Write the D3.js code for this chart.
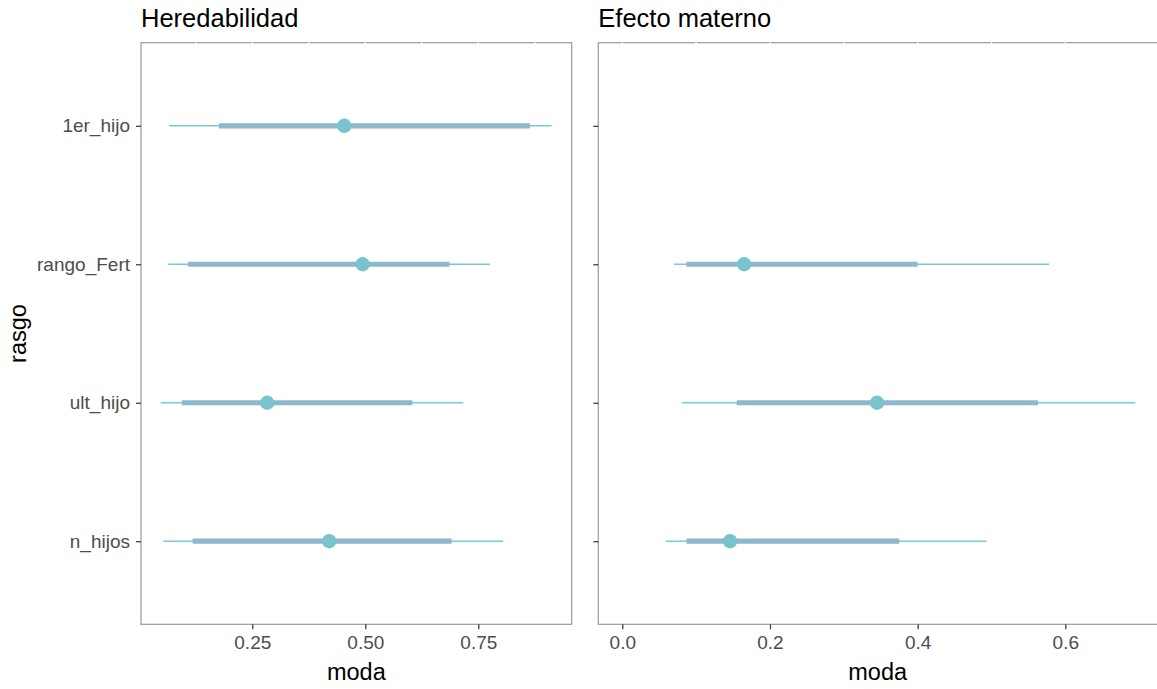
<!DOCTYPE html>
<html>
<head>
<meta charset="utf-8">
<script src="https://cdn.jsdelivr.net/npm/d3@7"></script>
<style>
  body { margin: 0; background: #fff; }
  text { font-family: "Liberation Sans", Arial, sans-serif; }
</style>
</head>
<body>
<svg id="svg"></svg>
<script>
var width = 1157, height = 689;

// data
var rasgos = ['1er_hijo', 'rango_Fert', 'ult_hijo', 'n_hijos'];

var herModa = [0.4535, 0.494, 0.283, 0.420];
var herLoInt = [0.176, 0.108, 0.094, 0.118];
var herHiInt = [0.864, 0.686, 0.604, 0.691];
var herLo = [0.066, 0.064, 0.047, 0.053];
var herHi = [0.912, 0.776, 0.717, 0.805];

var matModa = [null, 0.165, 0.345, 0.146];
var matLoInt = [null, 0.087, 0.155, 0.087];
var matHiInt = [null, 0.400, 0.563, 0.375];
var matLo = [null, 0.070, 0.081, 0.059];
var matHi = [null, 0.578, 0.695, 0.493];

var herTicks = [0.25, 0.50, 0.75];
var herGrid = [0.125, 0.25, 0.375, 0.5, 0.625, 0.75, 0.875];
var matTicks = [0.0, 0.2, 0.4, 0.6];
var matGrid = [0.0, 0.1, 0.2, 0.3, 0.4, 0.5, 0.6];

var colThin = '#7ec8d0', colThick = '#8db7cb', colPoint = '#79c4cc';

function rows(moda, lo, hi, loI, hiI) {
  return rasgos.map(function (r, i) {
    return { rasgo: r, moda: moda[i], lo: lo[i], hi: hi[i], loI: loI[i], hiI: hiI[i] };
  }).filter(function (d) { return d.moda !== null; });
}

var panels = [
  { title: 'Heredabilidad', x0: 141, x1: 571.7, domain: [0.0038, 0.9566],
    ticks: herTicks, grid: herGrid, fmt: d3.format('.2f'), labels: true,
    data: rows(herModa, herLo, herHi, herLoInt, herHiInt) },
  { title: 'Efecto materno', x0: 598.3, x1: 1161.3, domain: [-0.0325, 0.73],
    ticks: matTicks, grid: matGrid, fmt: d3.format('.1f'), labels: false,
    data: rows(matModa, matLo, matHi, matLoInt, matHiInt) }
];

var pTop = 42.7, pBottom = 624.3;
var y = d3.scalePoint().domain(rasgos).range([pTop, pBottom]).padding(0.6);

var svg = d3.select('#svg').attr('width', width).attr('height', height);

panels.forEach(function (p) {
  var x = d3.scaleLinear().domain(p.domain).range([p.x0, p.x1]);
  var g = svg.append('g');

  g.append('rect')
    .attr('x', p.x0).attr('y', pTop)
    .attr('width', p.x1 - p.x0).attr('height', pBottom - pTop)
    .attr('fill', 'none').attr('stroke', '#999').attr('stroke-width', 1.2);

  // white grid stubs that cut the top border
  g.selectAll('.gap').data(p.grid).enter().append('line')
    .attr('x1', function (d) { return x(d); }).attr('x2', function (d) { return x(d); })
    .attr('y1', pTop - 1.5).attr('y2', pTop + 1.5)
    .attr('stroke', '#fff').attr('stroke-width', 1.2);

  g.append('text')
    .attr('x', p.x0).attr('y', 27)
    .attr('font-size', 25.5).attr('fill', '#000')
    .text(p.title);

  // x axis
  var xa = g.append('g').attr('transform', 'translate(0,' + pBottom + ')')
    .call(d3.axisBottom(x).tickValues(p.ticks).tickFormat(p.fmt).tickSize(5).tickPadding(6));
  xa.select('.domain').remove();
  xa.selectAll('line').attr('stroke', '#333').attr('stroke-width', 1.2);
  xa.selectAll('text').attr('font-size', 19).attr('fill', '#4d4d4d')
    .attr('font-family', '"Liberation Sans", Arial, sans-serif');

  g.append('text')
    .attr('x', (p.x0 + Math.min(p.x1, width)) / 2)
    .attr('y', 680).attr('text-anchor', 'middle')
    .attr('font-size', 23.5).attr('fill', '#000')
    .text('moda');

  // y axis
  var ya = g.append('g').attr('transform', 'translate(' + p.x0 + ',0)')
    .call(d3.axisLeft(y).tickSize(5).tickPadding(6).tickFormat(p.labels ? null : ''));
  ya.select('.domain').remove();
  ya.selectAll('line').attr('stroke', '#333').attr('stroke-width', 1.2);
  ya.selectAll('text').attr('font-size', 19).attr('fill', '#4d4d4d')
    .attr('font-family', '"Liberation Sans", Arial, sans-serif');

  // intervals
  g.selectAll('.thin').data(p.data).enter().append('line')
    .attr('x1', function (d) { return x(d.lo); }).attr('x2', function (d) { return x(d.hi); })
    .attr('y1', function (d) { return y(d.rasgo); }).attr('y2', function (d) { return y(d.rasgo); })
    .attr('stroke', colThin).attr('stroke-width', 1.4);

  g.selectAll('.thick').data(p.data).enter().append('line')
    .attr('x1', function (d) { return x(d.loI); }).attr('x2', function (d) { return x(d.hiI); })
    .attr('y1', function (d) { return y(d.rasgo); }).attr('y2', function (d) { return y(d.rasgo); })
    .attr('stroke', colThick).attr('stroke-width', 5.2);

  g.selectAll('.pt').data(p.data).enter().append('circle')
    .attr('cx', function (d) { return x(d.moda); })
    .attr('cy', function (d) { return y(d.rasgo); })
    .attr('r', 7.2).attr('fill', colPoint);
});

svg.append('text')
  .attr('transform', 'translate(26,' + ((pTop + pBottom) / 2) + ') rotate(-90)')
  .attr('text-anchor', 'middle')
  .attr('font-size', 23.5).attr('fill', '#000')
  .text('rasgo');
</script>
</body>
</html>
